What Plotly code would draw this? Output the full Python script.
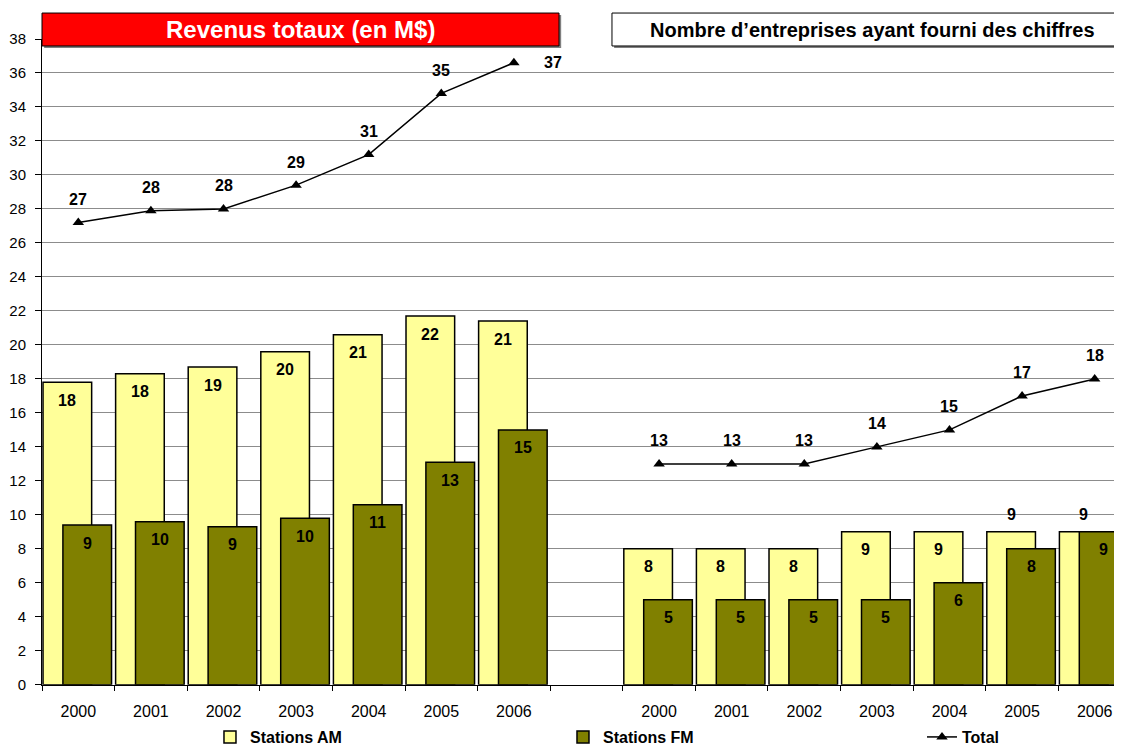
import plotly.graph_objects as go

# data
years = ["2000", "2001", "2002", "2003", "2004", "2005", "2006"]

rev_am = [17.8, 18.3, 18.7, 19.6, 20.6, 21.7, 21.4]
rev_fm = [9.4, 9.6, 9.3, 9.8, 10.6, 13.1, 15.0]
rev_total = [27.2, 27.9, 28.0, 29.4, 31.2, 34.8, 36.6]

cnt_am = [8, 8, 8, 9, 9, 9, 9]
cnt_fm = [5, 5, 5, 5, 6, 8, 9]
cnt_total = [13, 13, 13, 14, 15, 17, 18]

FONT = "Arial, Liberation Sans, sans-serif"
AM_COLOR = "#FFFF99"
FM_COLOR = "#808000"

# two groups of 7 slots with an empty slot between them
x_pos = list(range(0, 7)) + [7] + list(range(8, 15))
am_vals = rev_am + [None] + cnt_am
fm_vals = rev_fm + [None] + cnt_fm
tot_vals = rev_total + [None] + cnt_total

BAR_W = 0.67
AM_OFF = -0.486
FM_OFF = -0.212

fig = go.Figure()

fig.add_trace(go.Bar(
    x=x_pos, y=am_vals, name="<b>Stations AM</b>",
    width=BAR_W, offset=AM_OFF, legend="legend",
    marker=dict(color=AM_COLOR, line=dict(color="black", width=1.5)),
))
fig.add_trace(go.Bar(
    x=x_pos, y=fm_vals, name="<b>Stations FM</b>",
    width=BAR_W, offset=FM_OFF, legend="legend2",
    marker=dict(color=FM_COLOR, line=dict(color="black", width=1.5)),
))
fig.add_trace(go.Scatter(
    x=x_pos, y=tot_vals, name="<b>Total</b>",
    mode="lines+markers", connectgaps=False, legend="legend3",
    line=dict(color="black", width=1.5),
    marker=dict(symbol="triangle-up", size=10, color="black"),
))

# value labels
annotations = []
label_font = dict(family=FONT, size=16, color="black")
am_center = AM_OFF + BAR_W / 2
fm_center = FM_OFF + BAR_W / 2
for xa, v in zip(x_pos, am_vals):
    if v is None:
        continue
    # AM count labels for 2005/2006 sit above the bar (FM bar covers it)
    above = xa >= 13
    annotations.append(dict(
        x=xa + am_center, y=v, text=f"<b>{v:.0f}</b>", showarrow=False,
        yshift=17 if above else -18, font=label_font,
    ))
for xa, v in zip(x_pos, fm_vals):
    if v is None:
        continue
    annotations.append(dict(
        x=xa + fm_center, y=v, text=f"<b>{v:.0f}</b>", showarrow=False,
        yshift=-18, font=label_font,
    ))
for xa, v in zip(x_pos, tot_vals):
    if v is None:
        continue
    last_rev = xa == 6
    annotations.append(dict(
        x=xa, y=v, text=f"<b>{v:.0f}</b>", showarrow=False,
        xshift=39 if last_rev else 0, yshift=0 if last_rev else 23,
        font=label_font,
    ))

# panel titles
annotations.append(dict(
    x=0.2407, y=1.0147, xref="paper", yref="paper", showarrow=False,
    xanchor="center", yanchor="middle",
    text="<b>Revenus totaux (en M$)</b>",
    font=dict(family=FONT, size=24, color="white"),
))
annotations.append(dict(
    x=0.7743, y=1.0147, xref="paper", yref="paper", showarrow=False,
    xanchor="center", yanchor="middle",
    text="<b>Nombre d’entreprises ayant fourni des chiffres</b>",
    font=dict(family=FONT, size=20, color="black"),
))

shapes = [
    # shadows
    dict(type="rect", xref="paper", yref="paper", x0=0.002, x1=0.4843,
         y0=0.986, y1=1.037, fillcolor="#7f7f7f", line=dict(width=0),
         layer="above"),
    dict(type="rect", xref="paper", yref="paper", x0=0.5337, x1=1.03,
         y0=0.986, y1=1.037, fillcolor="#7f7f7f", line=dict(width=0),
         layer="above"),
    # title boxes
    dict(type="rect", xref="paper", yref="paper", x0=0.0, x1=0.4823,
         y0=0.9892, y1=1.0402, fillcolor="#FF0000",
         line=dict(color="black", width=1), layer="above"),
    dict(type="rect", xref="paper", yref="paper", x0=0.5317, x1=1.02,
         y0=0.9892, y1=1.0402, fillcolor="white",
         line=dict(color="black", width=1), layer="above"),
]

legend_common = dict(
    orientation="h", xanchor="left",
    yref="container", y=0.0135, yanchor="middle",
    font=dict(family=FONT, size=16, color="black"),
    bgcolor="rgba(0,0,0,0)",
)

fig.update_layout(
    width=1106, height=739,
    margin=dict(l=34, r=0, t=31, b=61),
    paper_bgcolor="white", plot_bgcolor="white",
    barmode="overlay",
    font=dict(family=FONT, size=16, color="black"),
    showlegend=True,
    legend=dict(x=0.1567, **legend_common),
    legend2=dict(x=0.486, **legend_common),
    legend3=dict(x=0.8209, **legend_common),
    annotations=annotations,
    shapes=shapes,
)

fig.update_xaxes(
    range=[-0.5, 14.266],
    tickmode="array",
    tickvals=list(range(0, 7)) + list(range(8, 15)),
    ticktext=years + years,
    ticks="",
    ticklabelstandoff=12,
    tickfont=dict(family=FONT, size=16, color="black"),
    showgrid=False, zeroline=False,
    showline=True, linecolor="black", linewidth=1,
    minor=dict(tickmode="array", tickvals=[i - 0.5 for i in range(15)],
               ticks="outside", ticklen=5, tickcolor="black", showgrid=False),
)
fig.update_yaxes(
    range=[0, 38], tickmode="linear", tick0=0, dtick=2,
    ticks="outside", ticklen=6, tickcolor="black",
    ticklabelstandoff=6,
    tickfont=dict(family=FONT, size=15, color="black"),
    showgrid=True, gridcolor="#8c8c8c", gridwidth=1,
    zeroline=False, showline=True, linecolor="black", linewidth=1,
)

fig.write_html("out.html")
